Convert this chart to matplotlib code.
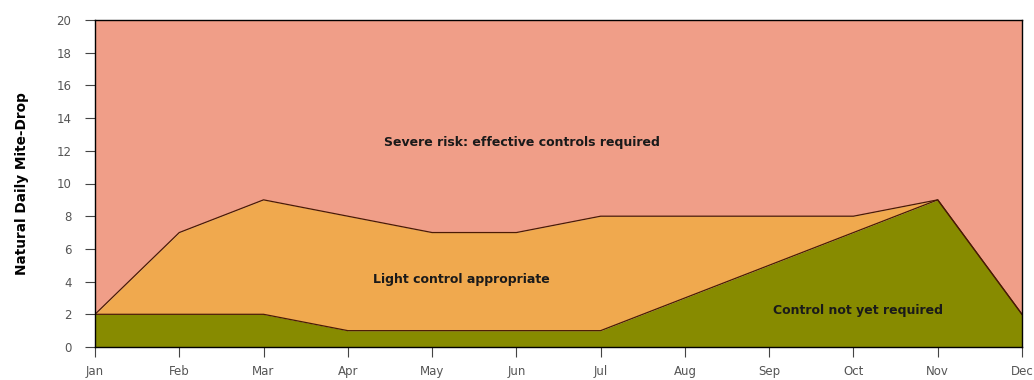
import numpy as np
import matplotlib.pyplot as plt

# mois et seuils de chute naturelle journalière
months = ['Jan', 'Feb', 'Mar', 'Apr', 'May', 'Jun', 'Jul', 'Aug', 'Sep', 'Oct', 'Nov', 'Dec']
lower = [2, 2, 2, 1, 1, 1, 1, 3, 5, 7, 9, 2]   # limite "pas encore de traitement"
upper = [2, 7, 9, 8, 7, 7, 8, 8, 8, 8, 9, 2]   # limite "traitement léger"
y_max = 20

C_SEVERE = '#F09E88'
C_LIGHT = '#F0A94E'
C_NONE = '#878B00'
C_EDGE = '#4a1a05'

x = np.arange(len(months))

fig = plt.figure(figsize=(10.34, 3.80), dpi=100)
ax = fig.add_axes([95/1034, 1 - 347/380, 927/1034, 327/380])

ax.fill_between(x, upper, y_max, color=C_SEVERE, lw=0)
ax.fill_between(x, lower, upper, color=C_LIGHT, lw=0)
ax.fill_between(x, 0, lower, color=C_NONE, lw=0)
ax.plot(x, upper, color=C_EDGE, lw=0.9)
ax.plot(x, lower, color=C_EDGE, lw=0.9)

ax.set_xlim(0, len(months) - 1)
ax.set_ylim(0, y_max)
ax.set_xticks(x)
ax.set_xticklabels(months)
ax.set_yticks(np.arange(0, y_max + 1, 2))

for s in ax.spines.values():
    s.set_color('black')
    s.set_linewidth(1.0)

ax.tick_params(axis='both', direction='out', length=7, width=0.8, color='#444444',
               labelcolor='#555555', labelsize=8.5)
ax.tick_params(axis='y', pad=10)
ax.tick_params(axis='x', pad=6)

ax.set_ylabel('Natural Daily Mite-Drop', fontsize=9.8, fontweight='bold', labelpad=20)

# étiquettes des zones
ax.text(5.07, 12.5, 'Severe risk: effective controls required', ha='center', va='center',
        fontsize=9, fontweight='bold', color='#1a1a1a')
ax.text(4.35, 4.1, 'Light control appropriate', ha='center', va='center',
        fontsize=9, fontweight='bold', color='#1a1a1a')
ax.text(9.05, 2.25, 'Control not yet required', ha='center', va='center',
        fontsize=9, fontweight='bold', color='#1a1a1a')

fig.savefig('out.png', dpi=100)
plt.close()
